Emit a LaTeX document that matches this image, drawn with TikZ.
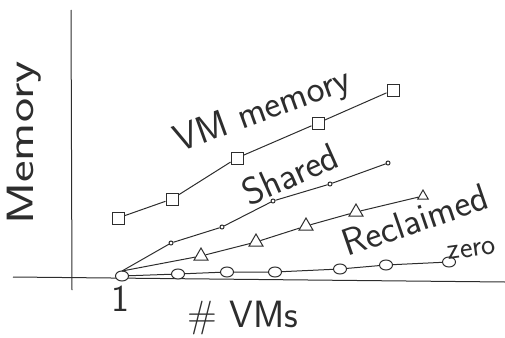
\documentclass[tikz,border=0pt]{standalone}
\usepackage{tikz}
\usetikzlibrary{shapes.geometric, arrows.meta, calc}
\definecolor{pencil}{RGB}{45, 45, 45}

\begin{document}
\begin{tikzpicture}[
        x=1pt, y=-1pt,
        line/.style={draw=pencil, line width=1pt},
        sq/.style={rectangle, draw=pencil, line width=1pt, minimum size=12pt, inner sep=0pt, fill=white},
        dot/.style={circle, draw=pencil, line width=1pt, minimum size=4pt, inner sep=0pt, fill=white},
        tri/.style={regular polygon, regular polygon sides=3, draw=pencil, line width=1pt, minimum size=16pt, inner sep=0pt, fill=white},
        oval/.style={ellipse, draw=pencil, line width=1pt, minimum width=13pt, minimum height=10pt, inner sep=0pt, fill=white},
        lbl/.style={text=pencil, font=\sffamily\fontsize{38}{40}\selectfont, inner sep=0pt},
        small/.style={text=pencil, font=\sffamily\fontsize{30}{32}\selectfont, inner sep=0pt}
    ]
        \useasboundingbox (0,0) rectangle (505,337);

        % Axes
        \coordinate (ytop) at (71,10);
        \coordinate (ybot) at (72,290);
        \coordinate (xleft) at (13,277);
        \coordinate (xright) at (505,282);
        \draw[line] (ytop) -- (ybot);
        \draw[line] (xleft) -- (xright);

        % Axis texts
        \node[lbl, rotate=90] (ylab) at (24,143) {\scalebox{1.35}[1]{Memory}};
        \node[lbl] (one) at (120,299) {1};
        \node[lbl] (xlab) at (243,318) {\# VMs};

        % Common start at one VM
        \coordinate (start) at (122,271);

        % Zero pages
        \node[oval] (z0) at (122,276) {};
        \node[oval] (z1) at (178,274) {};
        \node[oval] (z2) at (227,272) {};
        \node[oval] (z3) at (275,272) {};
        \node[oval] (z4) at (340,269) {};
        \node[oval] (z5) at (386,265) {};
        \node[oval] (z6) at (449,262) {};
        \draw[line] (z0) -- (z1) -- (z2) -- (z3) -- (z4) -- (z5) -- (z6);

        % Reclaimed
        \node[tri] (r1) at (201,256) {};
        \node[tri] (r2) at (256,242) {};
        \node[tri] (r3) at (306,226) {};
        \node[tri] (r4) at (356,212) {};
        \node[tri, minimum size=12pt] (r5) at (423,196) {};
        \draw[line] (start) -- (r1) -- (r2) -- (r3) -- (r4) -- (r5);

        % Shared
        \node[dot] (s1) at (171,243) {};
        \node[dot] (s2) at (222,227) {};
        \node[dot] (s3) at (273,201) {};
        \node[dot] (s4) at (330,184) {};
        \node[dot] (s5) at (388,163) {};
        \draw[line] (start) -- (s1) -- (s2) -- (s3) -- (s4) -- (s5);

        % VM memory
        \node[sq] (m1) at (118,218) {};
        \node[sq] (m2) at (172,199) {};
        \node[sq] (m3) at (237,158) {};
        \node[sq] (m4) at (318,123) {};
        \node[sq] (m5) at (393,90) {};
        \draw[line] (m1) -- (m2) -- (m3) -- (m4) -- (m5);

        % Curve names
        \node[lbl, rotate=20] (vmlab) at (263,112) {VM memory};
        \node[lbl, rotate=24] (shlab) at (290,174) {Shared};
        \node[lbl, rotate=19] (relab) at (415,220) {Reclaimed};
        \node[small, rotate=8] (zelab) at (472,250) {zero};
    \end{tikzpicture}
\end{document}
